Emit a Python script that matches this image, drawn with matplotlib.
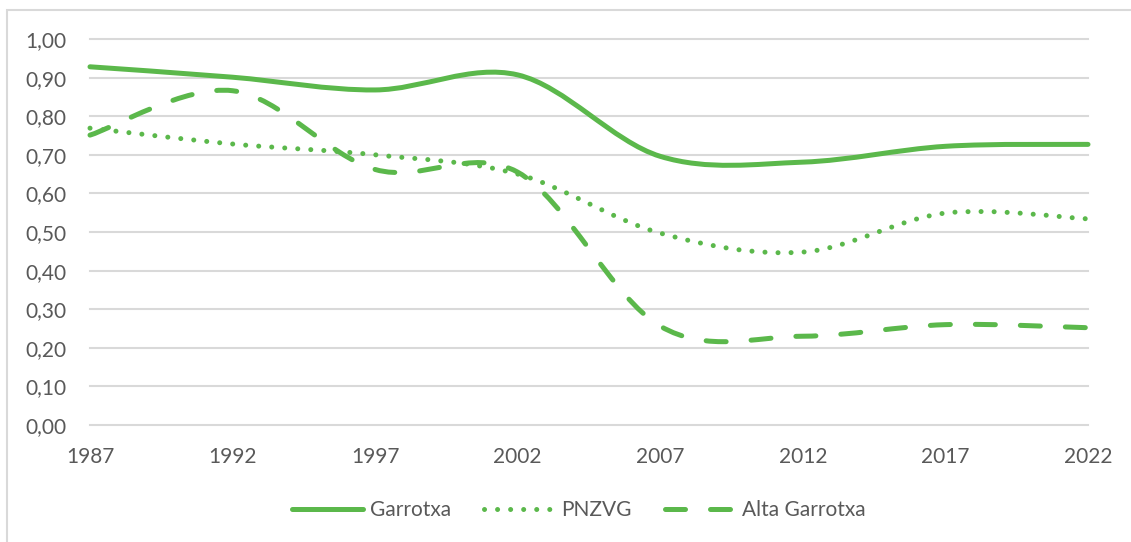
import matplotlib
matplotlib.use('Agg')
import matplotlib.pyplot as plt
from matplotlib.path import Path
from matplotlib.patches import PathPatch, Rectangle
from matplotlib.lines import Line2D
import numpy as np

# values (every 5 years)
years = [1987, 1992, 1997, 2002, 2007, 2012, 2017, 2022]
garrotxa = [0.928, 0.901, 0.868, 0.907, 0.696, 0.681, 0.722, 0.727]
pnzvg = [0.769, 0.728, 0.700, 0.650, 0.497, 0.448, 0.549, 0.534]
alta_garrotxa = [0.751, 0.866, 0.662, 0.655, 0.256, 0.230, 0.260, 0.252]
names = ['Garrotxa', 'PNZVG', 'Alta Garrotxa']

green = '#5BB84B'
grey_txt = '#595959'
grid_col = '#d9d9d9'
lw = 3.6

plt.rcParams['font.family'] = ['Lato', 'DejaVu Sans']
plt.rcParams['font.size'] = 15


def smooth_path(xs, ys):
    # excel-like smoothed line: cubic bezier through every point
    pts = np.column_stack([xs, ys]).astype(float)
    n = len(pts)
    verts = [pts[0]]
    codes = [Path.MOVETO]
    for i in range(n - 1):
        p0 = pts[max(i - 1, 0)]
        p1 = pts[i]
        p2 = pts[i + 1]
        p3 = pts[min(i + 2, n - 1)]
        verts += [p1 + (p2 - p0) / 6, p2 - (p3 - p1) / 6, p2]
        codes += [Path.CURVE4] * 3
    return Path(verts, codes)


styles = ['-', (0, (0.01, 2.6)), (0, (4, 5))]

fig = plt.figure(figsize=(11.31, 5.42), dpi=100)
ax = fig.add_axes([90 / 1131, 117 / 542, 998 / 1131, 386 / 542])

# chart area border
fig.patches.append(Rectangle((7 / 1131, -0.1), 1.2, 1.1 - 10 / 542,
                             transform=fig.transFigure, fill=False,
                             ec=grid_col, lw=1.5))

handles = []
for vals, name, ls in zip([garrotxa, pnzvg, alta_garrotxa], names, styles):
    patch = PathPatch(smooth_path(years, vals), fill=False, ec=green, lw=lw,
                      linestyle=ls, capstyle='round', joinstyle='round',
                      clip_on=False, zorder=3)
    ax.add_patch(patch)
    handles.append(Line2D([], [], color=green, lw=lw, linestyle=ls,
                          dash_capstyle='round', solid_capstyle='round',
                          label=name))

ax.set_xlim(1987, 2022)
ax.set_ylim(0, 1)
ax.set_xticks(years)
yt = np.arange(0, 11) / 10
ax.set_yticks(yt)
ax.set_yticklabels([f'{v:.2f}'.replace('.', ',') for v in yt])
ax.tick_params(length=0, colors=grey_txt, labelsize=15)
ax.tick_params(axis='y', pad=17)
ax.tick_params(axis='x', pad=16)
ax.grid(axis='y', color=grid_col, lw=1.5)
ax.set_axisbelow(True)
for s in ax.spines.values():
    s.set_visible(False)
for gl in ax.get_ygridlines():
    gl.set_clip_on(False)

leg = fig.legend(handles=handles, loc='center', bbox_to_anchor=(0.512, 0.059),
                 ncol=3, frameon=False, handlelength=3.4, handletextpad=0.3,
                 columnspacing=1.6, fontsize=15)
for t in leg.get_texts():
    t.set_color(grey_txt)

fig.savefig('out.png', dpi=100)
